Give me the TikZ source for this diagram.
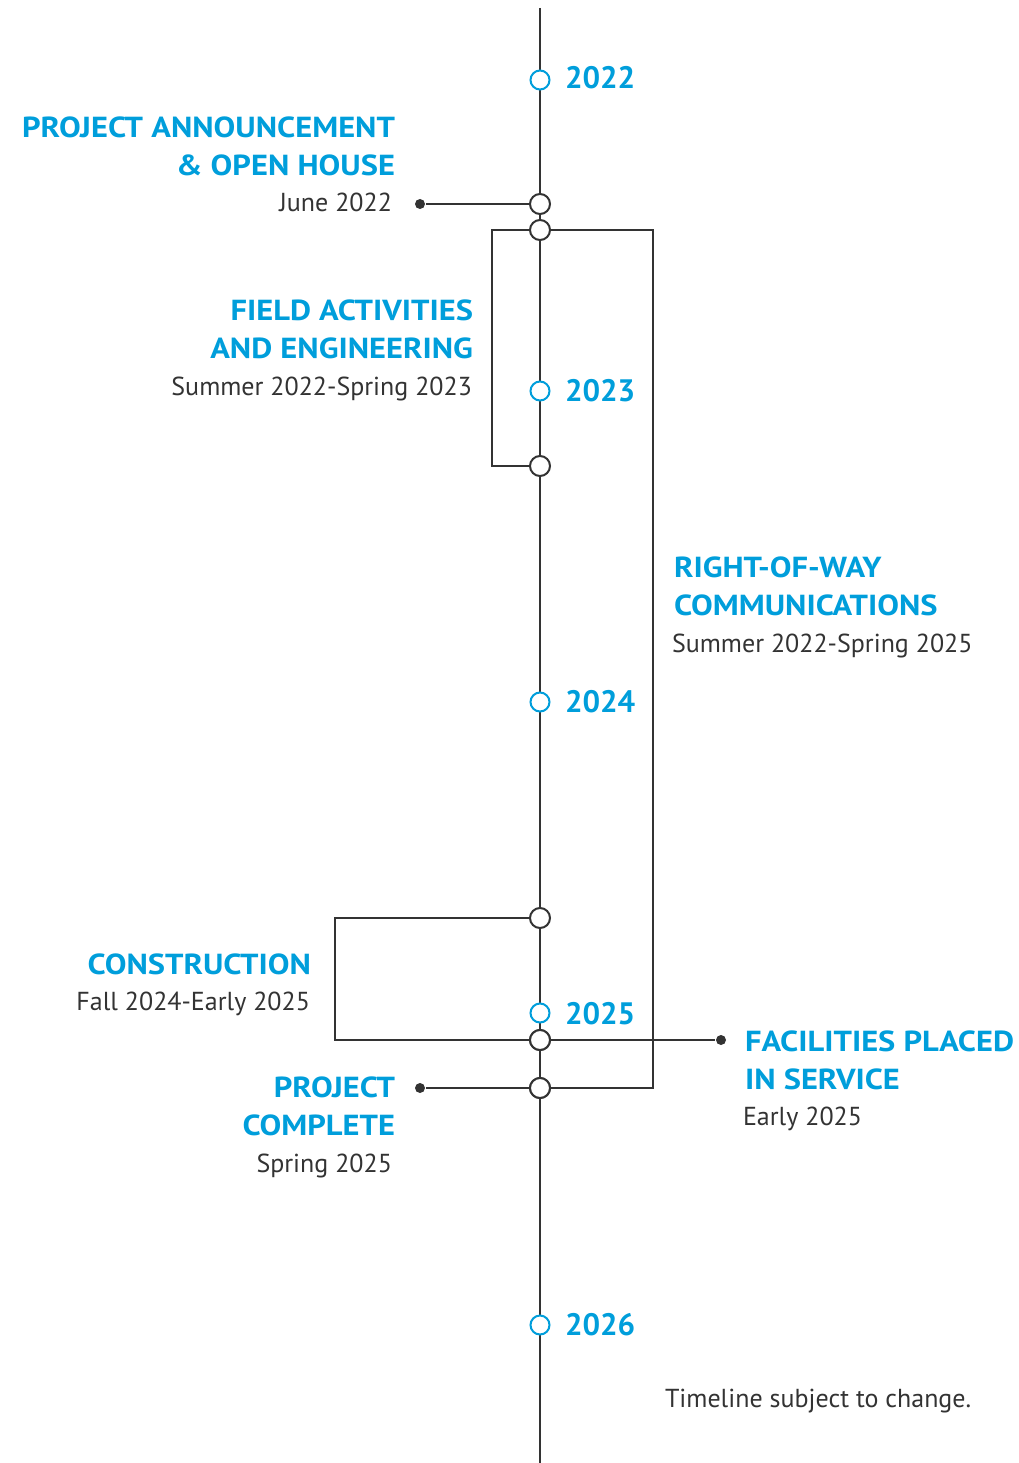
\documentclass[tikz,border=0pt]{standalone}
\usepackage{fontspec}
\setmainfont{PT Sans}
\definecolor{tlblue}{HTML}{009EDB}
\definecolor{tlgray}{HTML}{333333}
\newcommand{\hd}[1]{\scalebox{1.12}[1]{#1}}
\begin{document}
\begin{tikzpicture}[x=1pt,y=-1pt,
  line width=2pt, draw=tlgray,
  yearmark/.style={circle,draw=tlblue,fill=white,minimum size=19pt,inner sep=0pt,line width=2pt},
  eventmark/.style={circle,draw=tlgray,fill=white,minimum size=20pt,inner sep=0pt,line width=2pt},
  enddot/.style={circle,fill=tlgray,minimum size=10pt,inner sep=0pt},
  yeartext/.style={font=\fontsize{31}{31}\selectfont\bfseries,text=tlblue,inner sep=0pt,anchor=base west},
  headtext/.style={font=\fontsize{29}{29}\selectfont\bfseries,text=tlblue,inner sep=0pt},
  datetext/.style={font=\fontsize{26}{26}\selectfont,text=tlgray,inner sep=0pt},
  conn/.style={draw=tlgray,line width=2pt}
]
\useasboundingbox (0,0) rectangle (1019,1463);
\coordinate (top) at (540,8);
\coordinate (bottom) at (540,1463);
\draw[conn] (top) -- (bottom);

% event markers
\node[eventmark] (e1) at (540,204) {};
\node[eventmark] (e2) at (540,230) {};
\node[eventmark] (e3) at (540,466) {};
\node[eventmark] (e4) at (540,918) {};
\node[eventmark] (e5) at (540,1040) {};
\node[eventmark] (e6) at (540,1088) {};

% year markers
\node[yearmark] (y22) at (540,80) {};
\node[yearmark] (y23) at (540,391) {};
\node[yearmark] (y24) at (540,702) {};
\node[yearmark] (y25) at (540,1013) {};
\node[yearmark] (y26) at (540,1325) {};

\node[yeartext] (t22) at (564,89) {2022};
\node[yeartext] (t23) at (564,401) {2023};
\node[yeartext] (t24) at (564,712) {2024};
\node[yeartext] (t25) at (564,1024) {2025};
\node[yeartext] (t26) at (564,1335) {2026};

% dots
\node[enddot] (d1) at (420,204) {};
\node[enddot] (d2) at (420,1088) {};
\node[enddot] (d3) at (721,1040) {};

% connectors
\draw[conn] (d1) -- (e1.west);
\draw[conn] (d2) -- (e6.west);
\draw[conn] (e5.east) -- (d3);
\draw[conn] (e2.west) -- ++(-37,0) |- (e3.west);
\draw[conn] (e2.east) -- ++(102,0) |- (e6.east);
\draw[conn] (e4.west) -- ++(-194,0) |- (e5.west);
% redraw markers over crossing
\node[eventmark] at (e5) {};
\node[eventmark] at (e6) {};

% labels
\node[headtext,anchor=base east] (pa1) at (396,138) {\hd{PROJECT ANNOUNCEMENT}};
\node[headtext,anchor=base east] (pa2) at (396,176) {\hd{\&\ OPEN HOUSE}};
\node[datetext,anchor=base east] (pa3) at (393,212) {June 2022};

\node[headtext,anchor=base east] (fa1) at (474,320) {\hd{FIELD ACTIVITIES}};
\node[headtext,anchor=base east] (fa2) at (474,358) {\hd{AND ENGINEERING}};
\node[datetext,anchor=base east] (fa3) at (473,395) {Summer 2022-Spring 2023};

\node[headtext,anchor=base west] (rw1) at (673,577) {\hd{RIGHT-OF-WAY}};
\node[headtext,anchor=base west] (rw2) at (673,615) {\hd{COMMUNICATIONS}};
\node[datetext,anchor=base west] (rw3) at (671,652) {Summer 2022-Spring 2025};

\node[headtext,anchor=base east] (co1) at (312,974) {\hd{CONSTRUCTION}};
\node[datetext,anchor=base east] (co2) at (311,1010) {Fall 2024-Early 2025};

\node[headtext,anchor=base west] (fp1) at (744,1051) {\hd{FACILITIES PLACED}};
\node[headtext,anchor=base west] (fp2) at (744,1089) {\hd{IN SERVICE}};
\node[datetext,anchor=base west] (fp3) at (742,1125) {Early 2025};

\node[headtext,anchor=base east] (pc1) at (396,1097) {\hd{PROJECT}};
\node[headtext,anchor=base east] (pc2) at (396,1135) {\hd{COMPLETE}};
\node[datetext,anchor=base east] (pc3) at (393,1172) {Spring 2025};

\node[datetext,anchor=base west] (note) at (664,1407) {Timeline subject to change.};
\end{tikzpicture}
\end{document}
